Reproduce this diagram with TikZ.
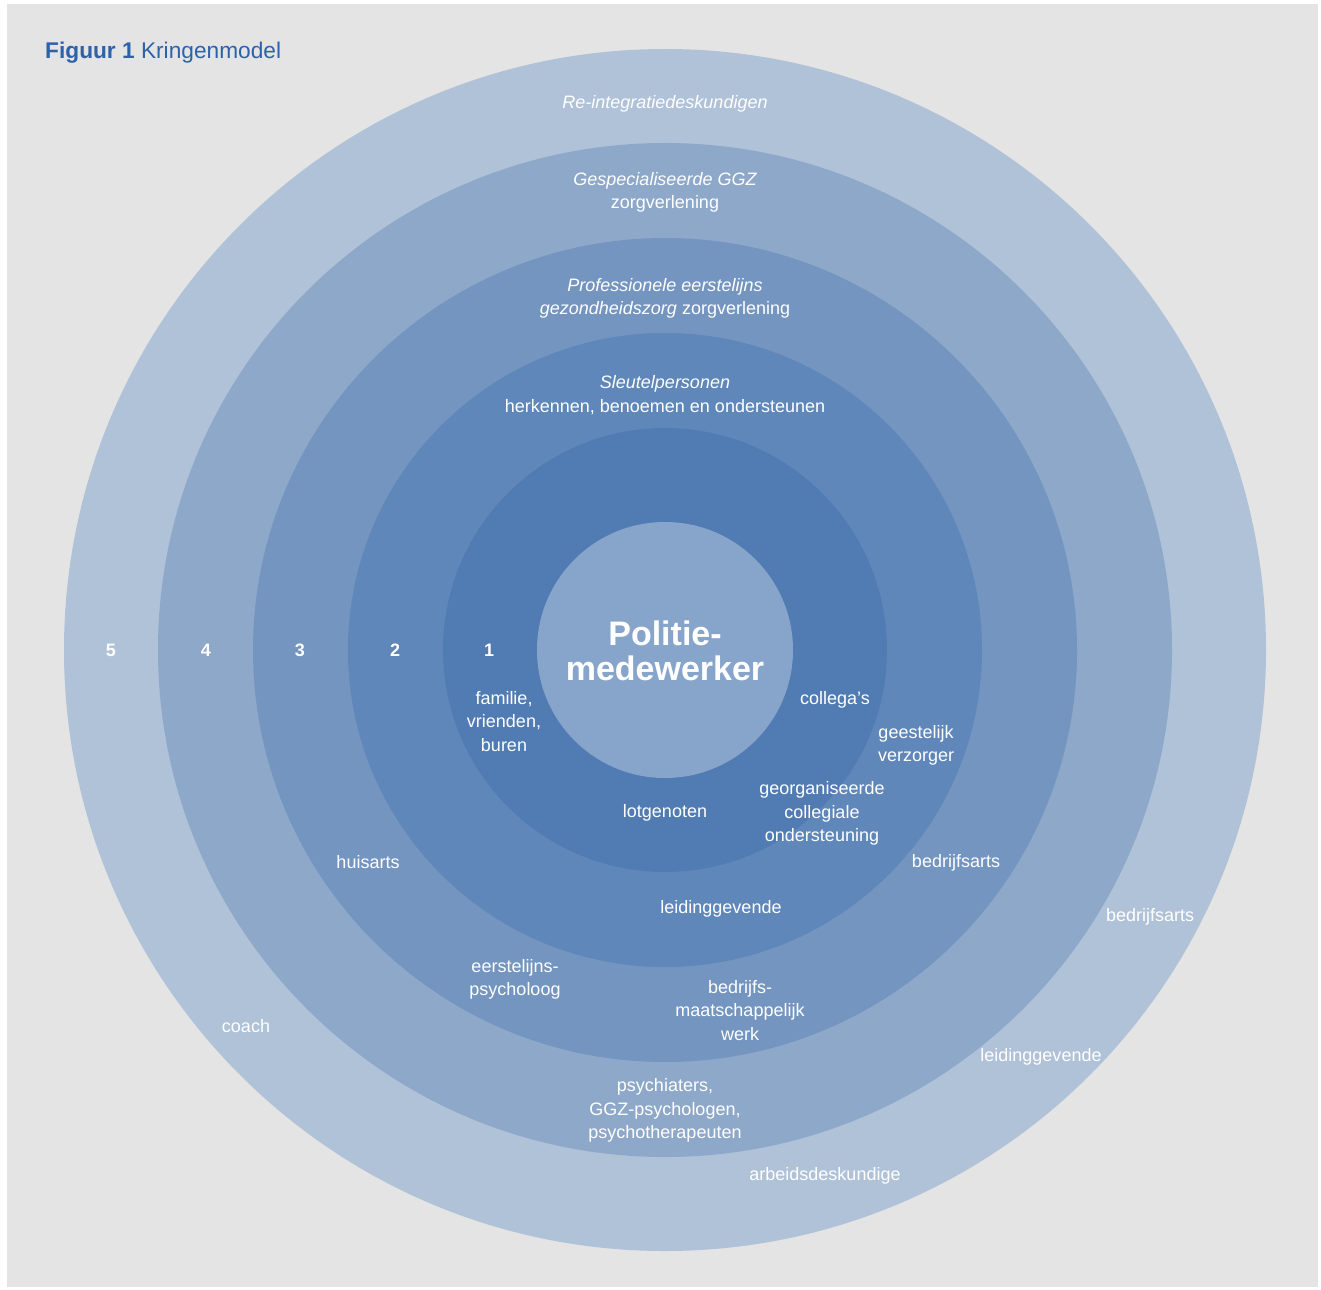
\documentclass[tikz,border=0pt]{standalone}
\usepackage{fontspec}
\setmainfont{Liberation Sans}
\definecolor{bgc}{HTML}{E4E4E4}
\definecolor{cfive}{HTML}{B0C2D8}
\definecolor{cfour}{HTML}{8EA8C9}
\definecolor{cthree}{HTML}{7395C0}
\definecolor{ctwo}{HTML}{5F87BA}
\definecolor{cone}{HTML}{517CB3}
\definecolor{ccore}{HTML}{87A5CB}
\definecolor{titleblue}{HTML}{2D62A8}
\tikzset{
  ring/.style={circle, inner sep=0pt, draw=none},
  lbl/.style={text=white, align=center, inner sep=0pt, yshift=-2.5pt, font=\fontsize{18}{23.3}\selectfont},
  num/.style={text=white, inner sep=0pt, font=\fontsize{18}{22}\selectfont\bfseries},
}
\begin{document}
\begin{tikzpicture}[x=1pt,y=-1pt]
\useasboundingbox (0,0) rectangle (1321,1289);
\fill[white] (0,0) rectangle (1321,1289);
\fill[bgc] (7,4) rectangle (1318,1287);
% rings
\node[ring, fill=cfive, minimum size=1202pt] (r5) at (665,650) {};
\node[ring, fill=cfour, minimum size=1014pt] (r4) at (665,650) {};
\node[ring, fill=cthree, minimum size=824pt] (r3) at (665,650) {};
\node[ring, fill=ctwo, minimum size=634pt] (r2) at (665,650) {};
\node[ring, fill=cone, minimum size=444pt] (r1) at (665,650) {};
\node[ring, fill=ccore, minimum size=256pt] (core) at (665,650) {};
% title
\node[anchor=west, inner sep=0pt, text=titleblue, font=\fontsize{22.7}{27}\selectfont] (title) at (45,52.5) {\textbf{Figuur 1} Kringenmodel};
% center
\node[text=white, align=center, inner sep=0pt, font=\fontsize{34}{35}\selectfont\bfseries] (pm) at (665,651) {Politie-\\medewerker};
% ring numbers
\node[num] (n5) at (111,650) {5};
\node[num] (n4) at (206,650) {4};
\node[num] (n3) at (300,650) {3};
\node[num] (n2) at (395,650) {2};
\node[num] (n1) at (489,650) {1};
% ring headings
\node[lbl] (h5) at (665,101) {\itshape Re-integratiedeskundigen};
\node[lbl] (h4) at (665,189.5) {\itshape Gespecialiseerde GGZ\\zorgverlening};
\node[lbl] (h3) at (665,295.5) {\itshape Professionele eerstelijns\\\textit{gezondheidszorg} \upshape zorgverlening};
\node[lbl] (h2) at (665,392.5) {\itshape Sleutelpersonen\\\upshape herkennen, benoemen en ondersteunen};
% ring 1 labels
\node[lbl] (fam) at (504,719) {familie,\\vrienden,\\buren};
\node[lbl] (col) at (835,697) {collega’s};
\node[lbl] (lot) at (665,810) {lotgenoten};
% ring 2 labels
\node[lbl] (gv) at (916,743) {geestelijk\\verzorger};
\node[lbl] (gco) at (822,811) {georganiseerde\\collegiale\\ondersteuning};
\node[lbl] (lg1) at (721,906) {leidinggevende};
% ring 3 labels
\node[lbl] (ha) at (368,860) {huisarts};
\node[lbl] (ba1) at (956,860) {bedrijfsarts};
\node[lbl] (ep) at (515,976.5) {eerstelijns-\\psycholoog};
\node[lbl] (bmw) at (740,1008) {bedrijfs-\\maatschappelijk\\werk};
% ring 4 labels
\node[lbl] (psy) at (665,1108) {psychiaters,\\GGZ-psychologen,\\psychotherapeuten};
% ring 5 labels
\node[lbl] (ba2) at (1150,914) {bedrijfsarts};
\node[lbl] (coach) at (246,1024) {coach};
\node[lbl] (lg2) at (1041,1054) {leidinggevende};
\node[lbl] (ad) at (825,1173) {arbeidsdeskundige};
\end{tikzpicture}
\end{document}
